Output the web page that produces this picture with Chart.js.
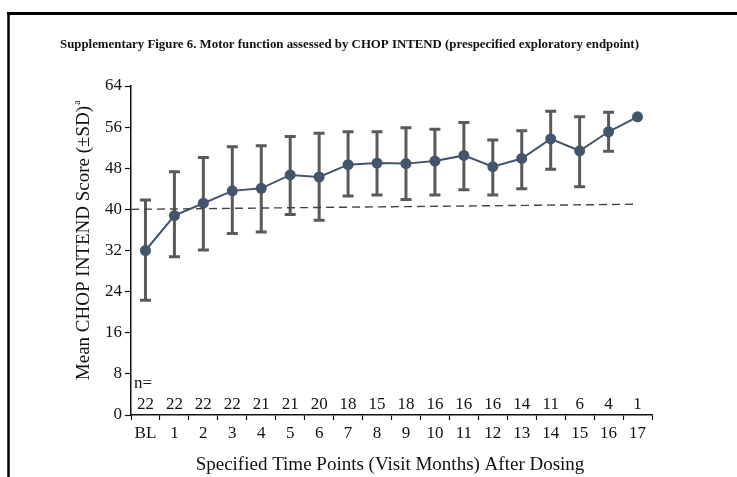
<!DOCTYPE html>
<html lang="en">
<head>
    <meta charset="UTF-8">
    <title>Supplementary Figure 6 - CHOP INTEND</title>
    <style>
        body {
            margin: 0;
            padding: 0;
            background: #fff;
        }
        #wrap {
            width: 737px;
            height: 477px;
        }
    </style>
</head>
<body>
    <div id="wrap">
        <canvas id="chopChart" width="737" height="477"></canvas>
    </div>

    <script src="https://cdn.jsdelivr.net/npm/chart.js"></script>
    <script>
        const visitLabels = ['BL', '1', '2', '3', '4', '5', '6', '7', '8', '9', '10', '11', '12', '13', '14', '15', '16', '17'];
        const meanScore = [32.0, 38.8, 41.2, 43.6, 44.1, 46.7, 46.3, 48.7, 49.0, 48.9, 49.4, 50.5, 48.3, 49.9, 53.7, 51.4, 55.1, 58.0];
        const sdUpper = [41.8, 47.3, 50.1, 52.2, 52.4, 54.2, 54.8, 55.1, 55.1, 55.9, 55.6, 56.9, 53.5, 55.3, 59.1, 58.0, 58.9, null];
        const sdLower = [22.3, 30.8, 32.1, 35.3, 35.6, 39.0, 37.9, 42.6, 42.8, 41.9, 42.8, 43.8, 42.8, 44.0, 47.8, 44.4, 51.3, null];
        const nCounts = [22, 22, 22, 22, 21, 21, 20, 18, 15, 18, 16, 16, 16, 14, 11, 6, 4, 1];
        const yTickValues = [0, 8, 16, 24, 32, 40, 48, 56, 64];
        // dashed reference line (x in category index units, -0.5 = axis edge)
        const refLineX = [-0.5, 17];
        const refLineY = [40, 41];

        const figTitle = 'Supplementary Figure 6. Motor function assessed by CHOP INTEND (prespecified exploratory endpoint)';
        const yTitle = 'Mean CHOP INTEND Score (\u00b1SD)';
        const xTitle = 'Specified Time Points (Visit Months) After Dosing';

        const serif = '"Liberation Serif", "Times New Roman", serif';

        // frame, titles and the n= row
        const decorations = {
            id: 'decorations',
            beforeDraw(chart) {
                const ctx = chart.ctx;
                ctx.save();
                ctx.fillStyle = '#fff';
                ctx.fillRect(0, 0, chart.width, chart.height);
                ctx.strokeStyle = '#000';
                ctx.lineWidth = 3;
                ctx.beginPath();
                ctx.moveTo(7, 13.5);
                ctx.lineTo(chart.width, 13.5);
                ctx.stroke();
                ctx.lineWidth = 2.5;
                ctx.beginPath();
                ctx.moveTo(8.5, 12);
                ctx.lineTo(8.5, chart.height);
                ctx.stroke();
                ctx.restore();
            },
            afterDraw(chart) {
                const ctx = chart.ctx;
                const x = chart.scales.x;
                ctx.save();
                ctx.fillStyle = '#111';

                // figure title, sized to the width it takes in the original
                ctx.font = 'bold 12px ' + serif;
                const tw = ctx.measureText(figTitle).width;
                const ts = Math.min(14, 12 * 579 / tw);
                ctx.font = 'bold ' + ts.toFixed(2) + 'px ' + serif;
                ctx.textAlign = 'left';
                ctx.textBaseline = 'alphabetic';
                ctx.fillText(figTitle, 60, 48);

                // x title
                ctx.font = '19px ' + serif;
                ctx.textAlign = 'center';
                ctx.fillText(xTitle, 390, 470);

                // y title with superscript a
                ctx.save();
                ctx.translate(89, 240);
                ctx.rotate(-Math.PI / 2);
                ctx.font = '19px ' + serif;
                const w = ctx.measureText(yTitle).width;
                ctx.textAlign = 'left';
                ctx.fillText(yTitle, -w / 2 - 3, 0);
                ctx.font = '10px ' + serif;
                ctx.fillText('a', w / 2 - 2, -9);
                ctx.restore();

                // n= row
                ctx.font = '17px ' + serif;
                ctx.textAlign = 'left';
                ctx.fillText('n=', 134, 388);
                ctx.textAlign = 'center';
                nCounts.forEach((n, i) => {
                    ctx.fillText(String(n), x.getPixelForValue(i), 409);
                });
                ctx.restore();
            }
        };

        // vertical SD bars with caps, drawn under the points
        const errorBars = {
            id: 'errorBars',
            beforeDatasetsDraw(chart) {
                const ctx = chart.ctx;
                const x = chart.scales.x;
                const y = chart.scales.y;
                ctx.save();
                ctx.strokeStyle = '#5a5a5a';
                ctx.lineWidth = 3;
                ctx.lineCap = 'butt';
                meanScore.forEach((m, i) => {
                    if (sdUpper[i] == null) return;
                    const px = x.getPixelForValue(i);
                    const top = y.getPixelForValue(sdUpper[i]);
                    const bot = y.getPixelForValue(sdLower[i]);
                    ctx.beginPath();
                    ctx.moveTo(px, top);
                    ctx.lineTo(px, bot);
                    ctx.moveTo(px - 5.5, top);
                    ctx.lineTo(px + 5.5, top);
                    ctx.moveTo(px - 5.5, bot);
                    ctx.lineTo(px + 5.5, bot);
                    ctx.stroke();
                });
                ctx.restore();
            }
        };

        const ctx = document.getElementById('chopChart').getContext('2d');
        new Chart(ctx, {
            type: 'line',
            data: {
                labels: visitLabels,
                datasets: [
                    {
                        label: 'Mean score',
                        data: meanScore,
                        borderColor: '#43546b',
                        backgroundColor: '#43546b',
                        borderWidth: 2,
                        pointRadius: 5.5,
                        pointBorderWidth: 0,
                        tension: 0,
                        order: 1
                    },
                    {
                        label: 'Reference',
                        xAxisID: 'xRef',
                        data: refLineX.map((v, i) => ({ x: v, y: refLineY[i] })),
                        borderColor: '#444',
                        borderWidth: 1.4,
                        borderDash: [8, 5],
                        pointRadius: 0,
                        order: 2
                    }
                ]
            },
            options: {
                responsive: false,
                animation: false,
                layout: {
                    padding: { top: 86, right: 85, left: 0, bottom: 0 }
                },
                plugins: {
                    legend: { display: false },
                    tooltip: { enabled: false }
                },
                scales: {
                    x: {
                        type: 'category',
                        offset: true,
                        afterFit(scale) { scale.height = 62; },
                        grid: {
                            offset: true,
                            drawOnChartArea: false,
                            drawTicks: true,
                            tickLength: 5,
                            tickWidth: 1.2,
                            tickColor: '#111'
                        },
                        border: { display: true, color: '#111', width: 1.5 },
                        ticks: {
                            color: '#111',
                            padding: 3,
                            maxRotation: 0,
                            autoSkip: false,
                            font: { family: serif, size: 17 }
                        }
                    },
                    xRef: {
                        type: 'linear',
                        display: false,
                        min: -0.5,
                        max: visitLabels.length - 0.5
                    },
                    y: {
                        min: 0,
                        max: 64,
                        afterFit(scale) { scale.width = 131; },
                        afterBuildTicks(scale) {
                            scale.ticks = yTickValues.map(v => ({ value: v }));
                        },
                        grid: {
                            drawOnChartArea: false,
                            drawTicks: true,
                            tickLength: 6,
                            tickWidth: 1.2,
                            tickColor: '#111'
                        },
                        border: { display: true, color: '#111', width: 1.5 },
                        ticks: {
                            color: '#111',
                            padding: 3,
                            font: { family: serif, size: 17 }
                        }
                    }
                }
            },
            plugins: [decorations, errorBars]
        });
    </script>
</body>
</html>
